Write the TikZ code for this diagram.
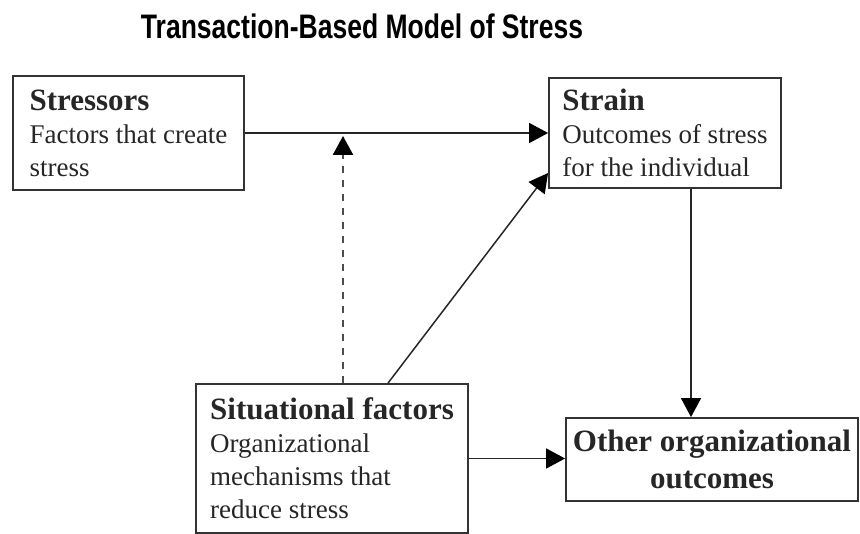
\documentclass[tikz,border=0pt]{standalone}
\usepackage{fontspec}
\setmainfont{Liberation Serif}
\newfontfamily\titlefont[FakeStretch=0.78]{Liberation Sans}
\usetikzlibrary{positioning}
\usetikzlibrary{arrows.meta}
\usetikzlibrary{calc}

\newcommand{\boxhead}[1]{{\fontsize{31}{33}\selectfont\bfseries #1}}

\begin{document}
\begin{tikzpicture}[x=1pt,y=1pt,
  box/.style={draw=black!80, line width=1.8pt, rectangle, inner sep=0pt, align=left,
    font=\fontsize{27}{33}\selectfont, text=black!85},
  arr/.style={-{Triangle[length=19pt,width=20pt,color=black]}, line width=1.5pt, color=black!85},
  dash line/.style={dash pattern=on 7pt off 7pt, line width=2.4pt, color=black!70}]
\useasboundingbox (0,0) rectangle (860,534);

\node(t)[anchor=base, font=\titlefont\fontsize{34}{36}\selectfont\bfseries] at (362,495) {Transaction-Based Model of Stress};

\node(s)[box, minimum width=231pt, minimum height=114pt] at (128.5,401) {\boxhead{Stressors}\\Factors that create\\stress};
\node(S)[box, minimum width=232pt, minimum height=110pt] at (665,401) {\boxhead{Strain}\\Outcomes of stress\\for the individual};

\node(f)[box, minimum width=272pt, minimum height=149pt] at (332,75.5) {\boxhead{Situational factors}\\Organizational\\mechanisms that\\reduce stress};
\node(o)[box, align=center, minimum width=292pt, minimum height=83pt] at (712,74.5) {\boxhead{Other organizational}\\[4pt]\boxhead{outcomes}};

\coordinate(m) at (343,401);

\draw[arr] (s.east) -- (S.west);
\draw[arr, dash line] (f.north -| m) -- ([yshift=-3pt]m);
\draw[arr] ([xshift=56pt]f.north) -- ([yshift=-40pt]S.west);
\draw[arr] ([xshift=26pt]S.south) -- ([xshift=26pt]S.south |- o.north);
\draw[arr] (f.east) -- (f.east -| o.west);
\end{tikzpicture}
\end{document}
